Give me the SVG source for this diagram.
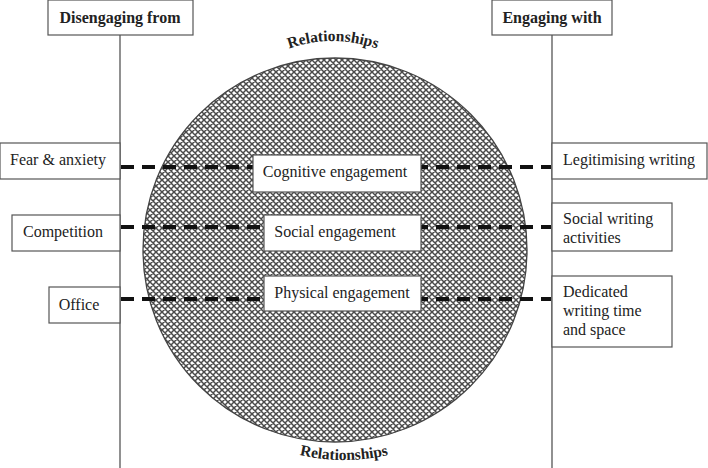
<svg xmlns="http://www.w3.org/2000/svg" width="708" height="468" viewBox="0 0 708 468">
<style>
.box{fill:#fff;stroke:#555;stroke-width:1.2}
.t{font-family:"Liberation Serif","Times New Roman",serif;font-size:16px;fill:#222}
.h{font-family:"Liberation Serif","Times New Roman",serif;font-size:16px;font-weight:bold;fill:#222}
.r{font-family:"Liberation Serif","Times New Roman",serif;font-size:15.5px;font-weight:bold;fill:#222}
.axis{stroke:#555;stroke-width:1.3;fill:none}
.dash{stroke:#111;stroke-width:4;stroke-dasharray:13 8;fill:none}
</style>
<defs>
<pattern id="hatch" patternUnits="userSpaceOnUse" width="6" height="6">
<rect width="6" height="6" fill="#fff"/>
<path d="M0 0L6 6M6 0L0 6M-1 5L1 7M5 -1L7 1M-1 1L1 -1M5 7L7 5" stroke="#4a4a4a" stroke-width="1.5"/>
</pattern>
<path id="arcTop" d="M 276 54 Q 332 28 390 54"/>
<path id="arcBot" d="M 288 452 Q 343 468 400 452"/>
</defs>
<g id="circle">
<circle cx="335" cy="250" r="192" fill="url(#hatch)" stroke="#444" stroke-width="1.3"/>
<text class="r"><textPath href="#arcTop" startOffset="50%" text-anchor="middle">Relationships</textPath></text>
<text class="r"><textPath href="#arcBot" startOffset="50%" text-anchor="middle">Relationships</textPath></text>
</g>
<g id="connectors">
<line class="axis" x1="120" y1="35" x2="120" y2="468"/>
<line class="axis" x1="552" y1="35" x2="552" y2="468"/>
<line class="dash" x1="121" y1="167" x2="551" y2="167"/>
<line class="dash" x1="121" y1="227" x2="551" y2="227"/>
<line class="dash" x1="121" y1="299" x2="551" y2="299"/>
</g>
<g id="disengaging">
<rect class="box" x="48" y="0" width="145" height="35"/>
<text class="h" x="120" y="23" text-anchor="middle">Disengaging from</text>
</g>
<g id="engaging">
<rect class="box" x="492" y="0" width="120" height="35"/>
<text class="h" x="552" y="23" text-anchor="middle">Engaging with</text>
</g>
<g id="fear">
<rect class="box" x="0" y="143" width="120" height="36"/>
<text class="t" x="58" y="165" text-anchor="middle">Fear &amp; anxiety</text>
</g>
<g id="competition">
<rect class="box" x="12" y="215" width="108" height="36"/>
<text class="t" x="63" y="237" text-anchor="middle">Competition</text>
</g>
<g id="office">
<rect class="box" x="49" y="287" width="71" height="36"/>
<text class="t" x="79" y="310" text-anchor="middle">Office</text>
</g>
<g id="cognitive">
<rect class="box" x="253" y="155" width="168" height="37"/>
<text class="t" x="335" y="177" text-anchor="middle">Cognitive engagement</text>
</g>
<g id="social">
<rect class="box" x="264" y="215" width="157" height="36"/>
<text class="t" x="335" y="237" text-anchor="middle">Social engagement</text>
</g>
<g id="physical">
<rect class="box" x="264" y="276" width="157" height="35"/>
<text class="t" x="342" y="298" text-anchor="middle">Physical engagement</text>
</g>
<g id="legitimising">
<rect class="box" x="552" y="143" width="155" height="36"/>
<text class="t" x="563" y="165">Legitimising writing</text>
</g>
<g id="socialwriting">
<rect class="box" x="552" y="203" width="120" height="48"/>
<text class="t" x="563" y="224">Social writing</text>
<text class="t" x="563" y="243">activities</text>
</g>
<g id="dedicated">
<rect class="box" x="552" y="276" width="120" height="71"/>
<text class="t" x="563" y="297">Dedicated</text>
<text class="t" x="563" y="316">writing time</text>
<text class="t" x="563" y="335">and space</text>
</g>
</svg>
